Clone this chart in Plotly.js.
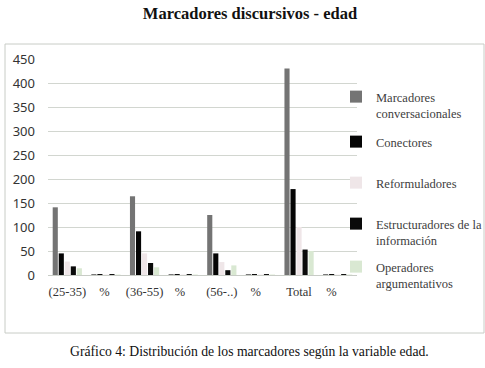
<!DOCTYPE html>
<html>
<head>
<meta charset="utf-8">
<script src="https://cdn.plot.ly/plotly-3.0.1.min.js"></script>
<style>
html,body{margin:0;padding:0;background:#fff;}
#chart{width:485px;height:368px;}
</style>
</head>
<body>
<div id="chart"></div>
<script>
const categories = ["(25-35)", "% ", "(36-55)", "%  ", "(56-..)", "%   ", "Total", "%    "];
const marcadores = [141, 2, 164, 2, 125, 2, 430, 2];
const conectores = [45, 2, 91, 2, 45, 2, 179, 2];
const reformuladores = [28, 1, 45, 1, 27, 1, 100, 1];
const estructuradores = [18, 2, 25, 2, 10, 2, 53, 2];
const operadores = [14, 1, 16, 1, 20, 1, 50, 1];
const seriesNames = ["Marcadores<br>conversacionales", "Conectores", "Reformuladores", "Estructuradores de la<br>información", "Operadores<br>argumentativos"];
const seriesValues = [marcadores, conectores, reformuladores, estructuradores, operadores];
const seriesColors = ["#747474", "#050505", "#efe6e8", "#0a0a0a", "#d9e8d2"];
const legendIds = ["legend", "legend2", "legend3", "legend4", "legend5"];
const legendCenters = [105, 142, 183, 232, 275];

const traces = seriesValues.map((v, i) => ({
  type: "bar",
  name: seriesNames[i],
  x: categories,
  y: v,
  legend: legendIds[i],
  marker: {color: seriesColors[i], line: {width: 0}},
  hoverinfo: "skip"
}));

const pw = 309, ph = 216, L = 48, B = 275;
const layout = {
  width: 485, height: 368,
  margin: {l: 48, r: 128, t: 59, b: 93, autoexpand: false},
  paper_bgcolor: "#fff", plot_bgcolor: "#fff",
  barmode: "group", bargap: 0.22, bargroupgap: 0.15,
  showlegend: true,
  title: {text: "<b>Marcadores discursivos - edad</b>", font: {family: "Liberation Serif", size: 16.5, color: "#111"},
          x: 250 / 485, xanchor: "center", y: 1 - 13/368, yanchor: "middle", yref: "container", xref: "container"},
  xaxis: {tickfont: {family: "Liberation Serif", size: 12.5, color: "#333"}, showgrid: false, zeroline: false,
          showline: false, ticks: "", ticklabelstandoff: 7, fixedrange: true},
  yaxis: {range: [0, 450], dtick: 50, tickfont: {family: "Noto Sans", size: 13, color: "#333"},
          showgrid: true, gridcolor: "#d2d6d0", gridwidth: 1, zeroline: true, zerolinecolor: "#c8ccc6", zerolinewidth: 1,
          showline: false, ticks: "", ticklabelstandoff: 12, fixedrange: true},
  shapes: [{type: "rect", xref: "paper", yref: "paper",
            x0: (5 - L) / pw, x1: (484 - L) / pw, y0: (B - 333) / ph, y1: (B - 44) / ph,
            line: {color: "#c8ccc6", width: 1}, fillcolor: "rgba(0,0,0,0)"}],
  annotations: [{text: "Gráfico 4: Distribución de los marcadores según la variable edad.", xref: "paper", yref: "paper",
                 x: (249 - L) / pw, xanchor: "center", y: (B - 351) / ph, yanchor: "middle", showarrow: false,
                 font: {family: "Liberation Serif", size: 13.7, color: "#111"}}]
};
legendIds.forEach((id, i) => {
  layout[id] = {xref: "container", yref: "container", x: 336 / 485, xanchor: "left",
                y: 1 - legendCenters[i] / 368, yanchor: "middle", valign: "top",
                font: {family: "Liberation Serif", size: 12.5, color: "#404040"},
                itemwidth: 30, bgcolor: "rgba(0,0,0,0)"};
});
Plotly.newPlot("chart", traces, layout, {displayModeBar: false, staticPlot: true});
</script>
</body>
</html>
